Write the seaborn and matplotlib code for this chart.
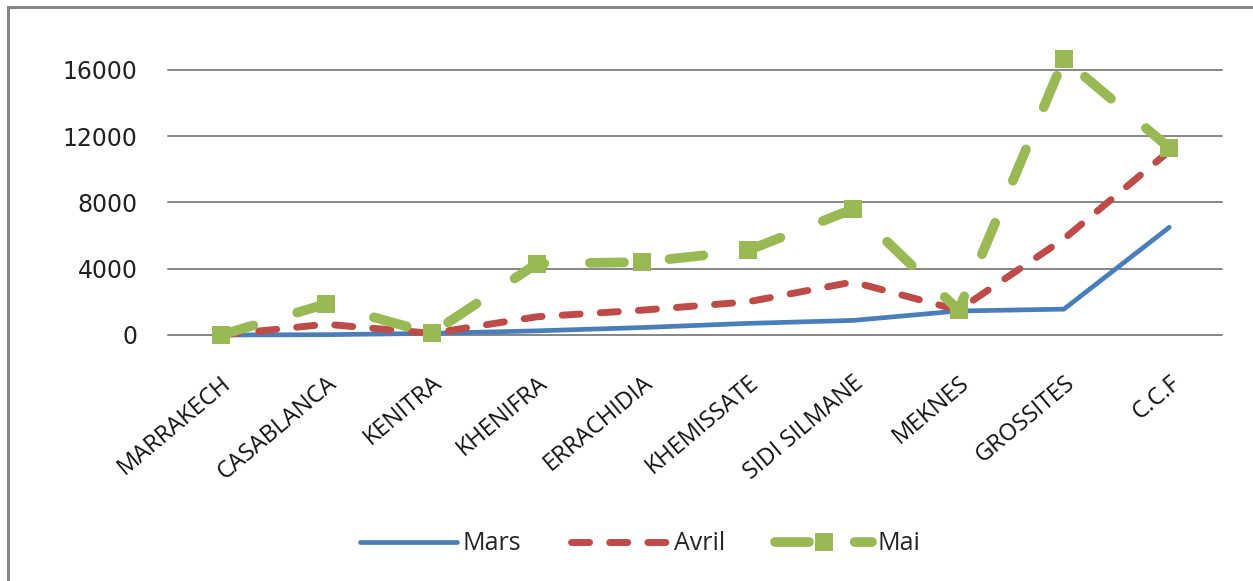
import numpy as np
import pandas as pd
import matplotlib
matplotlib.use("Agg")
import matplotlib.pyplot as plt
import seaborn as sns
from matplotlib.patches import Rectangle

cities = ["MARRAKECH", "CASABLANCA", "KENITRA", "KHENIFRA", "ERRACHIDIA",
          "KHEMISSATE", "SIDI SILMANE", "MEKNES", "GROSSITES", "C.C.F"]
mars = [0, 20, 100, 250, 450, 700, 880, 1450, 1560, 6500]
avril = [0, 650, 100, 1100, 1500, 2000, 3200, 1500, 5800, 11100]
mai = [0, 1870, 100, 4300, 4400, 5100, 7600, 1500, 16650, 11300]
yticks = [0, 4000, 8000, 12000, 16000]

sns.set_style("white")
plt.rcParams['font.family'] = ['DejaVu Sans']

W, H = 1253, 581
fig = plt.figure(figsize=(W / 100, H / 100), dpi=100)
# plot area in pixels: x 168..1222, y 0 at 335
ax = fig.add_axes([168 / W, 1 - 335 / H, (1222 - 168) / W, (335 - 45) / H])

sns.lineplot(x=cities, y=mars, ax=ax, sort=False, color="#4A7EBB",
             linewidth=3.4, label="Mars")
sns.lineplot(x=cities, y=avril, ax=ax, sort=False, color="#BE4B48",
             linewidth=5, linestyle=(0, (2.6, 2.9)), dash_capstyle='round',
             label="Avril")
sns.lineplot(x=cities, y=mai, ax=ax, sort=False, color="#98B954",
             linewidth=7, linestyle=(0, (3.5, 4.7)), dash_capstyle='round',
             marker='s', markersize=13, markeredgewidth=0, label="Mai")
for ln in ax.lines:
    ln.set_clip_on(False)

ax.set_xlim(-0.5, len(cities) - 0.5)
ax.set_ylim(0, 17500)
ax.set_yticks(yticks)
ax.set_yticklabels([str(v) for v in yticks], fontsize=17, color="#222222")
ax.grid(axis='y', color="#868686", linewidth=1.4)
ax.grid(axis='x', visible=False)
ax.set_axisbelow(True)
for g in ax.yaxis.get_gridlines():
    g.set_clip_on(False)
for s in ax.spines.values():
    s.set_visible(False)
ax.tick_params(axis='y', length=0, pad=22)
ax.tick_params(axis='x', length=0, pad=26)
ax.set_xlabel("")
ax.set_ylabel("")
for lab in ax.get_xticklabels():
    lab.set_rotation(40)
    lab.set_ha('right')
    lab.set_va('top')
    lab.set_rotation_mode('anchor')
    lab.set_fontfamily('Open Sans')
    lab.set_fontsize(17)
    lab.set_color("#111111")

handles, labels = ax.get_legend_handles_labels()
ax.get_legend().remove()
fig.legend(handles, labels, loc='center', bbox_to_anchor=(640 / W, 1 - 544 / H),
           ncol=3, frameon=False, handlelength=3.9, columnspacing=2.0,
           handletextpad=0.2, prop={'family': 'Open Sans', 'size': 18})

# outer chart frame (left and top edges visible)
fig.patches.append(Rectangle((8 / W, -0.1), 1.2, 1 - 7 / H + 0.1,
                             transform=fig.transFigure, fill=False,
                             edgecolor="#868686", linewidth=2.2))

fig.savefig("out.png", dpi=100)
